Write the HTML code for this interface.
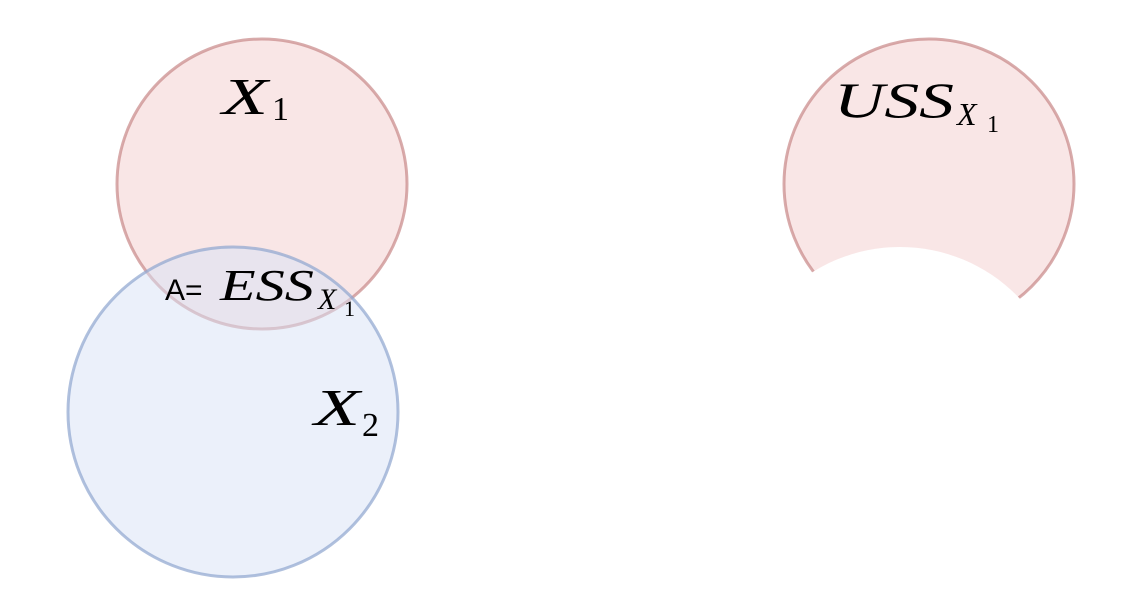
<!DOCTYPE html>
<html><head><meta charset="utf-8"><style>
html,body{margin:0;padding:0;background:#fff;}
svg{display:block;}
.m{font-family:"Liberation Serif",serif;font-style:italic;fill:#000;}
.n{font-family:"Liberation Serif",serif;fill:#000;}
.s{font-family:"Liberation Sans",sans-serif;fill:#000;}
</style></head><body>
<svg width="1144" height="612" viewBox="0 0 1144 612">
<defs>
<mask id="ussMask">
<rect x="0" y="0" width="1144" height="612" fill="#fff"/>
<circle cx="900" cy="412" r="165" fill="#000"/>
</mask>
</defs>
<g>
<circle cx="262" cy="184" r="145" fill="#f4d2d2" fill-opacity="0.55" stroke="#c88888" stroke-opacity="0.7" stroke-width="3"/>
</g>
<g>
<circle cx="233" cy="412" r="165" fill="#d8e1f6" fill-opacity="0.5" stroke="#8fa5cf" stroke-opacity="0.7" stroke-width="3"/>
</g>
<g mask="url(#ussMask)">
<circle cx="929" cy="184" r="145" fill="#f4d2d2" fill-opacity="0.55" stroke="#c88888" stroke-opacity="0.7" stroke-width="3"/>
</g>
<g>
<text class="m" x="222" y="114" font-size="52" textLength="46" lengthAdjust="spacingAndGlyphs">X</text>
<text class="n" x="272" y="120" font-size="34">1</text>
</g>
<g>
<text class="s" x="165" y="300" font-size="30">A=</text>
<text class="m" x="220" y="300" font-size="44" textLength="94" lengthAdjust="spacingAndGlyphs">ESS</text>
<text class="m" x="318" y="309" font-size="30">X</text>
<text class="n" x="344" y="316" font-size="22">1</text>
</g>
<g>
<text class="m" x="314" y="425" font-size="52" textLength="46" lengthAdjust="spacingAndGlyphs">X</text>
<text class="n" x="362" y="436" font-size="34">2</text>
</g>
<g>
<text class="m" x="834" y="117" font-size="50" textLength="120" lengthAdjust="spacingAndGlyphs">USS</text>
<text class="m" x="957" y="125" font-size="32">X</text>
<text class="n" x="987" y="132" font-size="24">1</text>
</g>
</svg>
</body></html>
